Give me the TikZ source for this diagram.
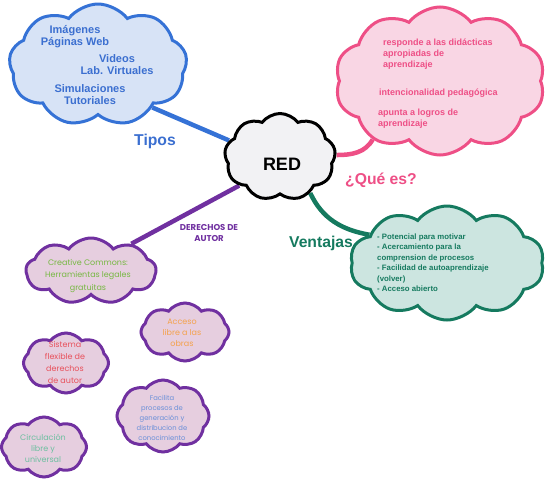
\documentclass[tikz,border=0pt]{standalone}
\usepackage{fontspec}
\setmainfont{Liberation Sans}
\newfontfamily\gothic{Poppins}
\usetikzlibrary{shapes.symbols,backgrounds}
\definecolor{bluebd}{HTML}{3572D6}
\definecolor{bluefl}{HTML}{D7E3F6}
\definecolor{bluetx}{HTML}{3B6FD0}
\definecolor{pinkbd}{HTML}{EE4F86}
\definecolor{pinkfl}{HTML}{F9D6E4}
\definecolor{redfl}{HTML}{F2F2F4}
\definecolor{greenbd}{HTML}{157A5F}
\definecolor{greenfl}{HTML}{CCE5E0}
\definecolor{purplebd}{HTML}{7030A0}
\definecolor{purplefl}{HTML}{E6CEDF}
\definecolor{cctx}{HTML}{77B843}
\definecolor{acctx}{HTML}{F4A24C}
\definecolor{sistx}{HTML}{E8505B}
\definecolor{factx}{HTML}{6A8FD8}
\definecolor{cirtx}{HTML}{6DBFA0}
\tikzset{
  cloudbox/.style={cloud, cloud ignores aspect, cloud puff arc=105, draw, line width=3pt, inner sep=0pt},
  bluecloud/.style={cloudbox, draw=bluebd, fill=bluefl},
  pinkcloud/.style={cloudbox, draw=pinkbd, fill=pinkfl},
  redcloud/.style={cloudbox, draw=black, fill=redfl},
  greencloud/.style={cloudbox, draw=greenbd, fill=greenfl},
  purplecloud/.style={cloudbox, draw=purplebd, fill=purplefl},
  link/.style={line width=4.5pt},
  bluetext/.style={text=bluetx, font=\bfseries\fontsize{11}{12}\selectfont, align=center, inner sep=0pt},
  pinktext/.style={text=pinkbd, font=\bfseries\fontsize{9}{11}\selectfont, align=left, anchor=west, inner sep=0pt},
  greentext/.style={text=greenbd, font=\bfseries\fontsize{7.8}{10.5}\selectfont, align=left, anchor=west, inner sep=0pt},
  gothtext/.style={font=\gothic\fontsize{8}{11}\selectfont, align=center, inner sep=0pt},
  title/.style={font=\bfseries\fontsize{15.7}{18}\selectfont, inner sep=0pt},
}
\begin{document}
\begin{tikzpicture}[x=1pt,y=1pt]
\useasboundingbox (0,0) rectangle (548,-480);
% clouds
\node[bluecloud, cloud puffs=9, minimum width=178pt, minimum height=122pt] (tipos) at (98,-65) {};
\node[pinkcloud, cloud puffs=10, minimum width=210pt, minimum height=148pt] (quees) at (440,-81) {};
\node[redcloud, cloud puffs=9, minimum width=111pt, minimum height=87pt] (red) at (280,-157) {};
\node[greencloud, cloud puffs=10, minimum width=194pt, minimum height=114pt] (vent) at (447,-263) {};
\node[purplecloud, cloud puffs=9, minimum width=130pt, minimum height=66pt] (cc) at (91,-271) {};
\node[purplecloud, cloud puffs=8, minimum width=88pt, minimum height=58pt] (acc) at (185,-332) {};
\node[purplecloud, cloud puffs=8, minimum width=85pt, minimum height=60pt] (sis) at (66,-363) {};
\node[purplecloud, cloud puffs=8, minimum width=92pt, minimum height=72pt] (fac) at (163,-416) {};
\node[purplecloud, cloud puffs=8, minimum width=85pt, minimum height=60pt] (cir) at (44,-447) {};
% connectors
\begin{scope}[on background layer]
\draw[link, bluebd] (tipos.-38) -- (red.162);
\draw[link, pinkbd] (red.2) to[out=0, in=-120] (quees.221);
\draw[link, greenbd] (red.-50) to[out=-65, in=170] (vent.160);
\draw[link, purplebd] (red.215) -- (cc.34);
\end{scope}
% texts
\node[bluetext] (b1) at (75,-37) {Imágenes\\Páginas Web};
\node[bluetext] (b2) at (117,-65) {Videos\\Lab. Virtuales};
\node[bluetext] (b3) at (90,-95) {Simulaciones\\Tutoriales};
\node[pinktext] (p1) at (383,-54) {responde a las didácticas\\apropiadas de\\aprendizaje};
\node[pinktext] (p2) at (379,-93) {intencionalidad pedagógica};
\node[pinktext] (p3) at (378,-118.5) {apunta a logros de\\aprendizaje};
\node[greentext] (g1) at (377,-262.5) {- Potencial para motivar\\- Acercamiento para la\\comprension de procesos\\- Facilidad de autoaprendizaje\\(volver)\\- Acceso abierto};
\node[gothtext, text=cctx, font=\gothic\fontsize{8}{12.5}\selectfont] (c1) at (88,-276) {Creative Commons:\\Herramientas legales\\gratuitas};
\node[gothtext, text=acctx] (c2) at (182,-333) {Acceso\\libre a las\\obras};
\node[gothtext, text=sistx, font=\gothic\fontsize{8}{11.7}\selectfont] (c3) at (65,-362.5) {Sistema\\flexible de\\derechos\\de autor};
\node[gothtext, text=factx, font=\gothic\fontsize{6.8}{10}\selectfont] (c4) at (162,-418) {Facilita\\procesos de\\generación y\\distribucion de\\conocimiento};
\node[gothtext, text=cirtx] (c5) at (43,-448) {Circulación\\libre y\\universal};
\node[title, text=bluetx] (lt) at (155,-141) {Tipos};
\node[title, text=pinkbd] (lq) at (381,-180) {¿Qué es?};
\node[title, text=greenbd] (lv) at (321,-243) {Ventajas};
\node[font=\gothic\bfseries\fontsize{8.5}{10.5}\selectfont, text=purplebd, align=center, inner sep=0pt] (ld) at (209,-233) {DERECHOS DE\\AUTOR};
\node[font=\bfseries\fontsize{18}{20}\selectfont, inner sep=0pt] (lr) at (282,-164) {RED};
\end{tikzpicture}
\end{document}
